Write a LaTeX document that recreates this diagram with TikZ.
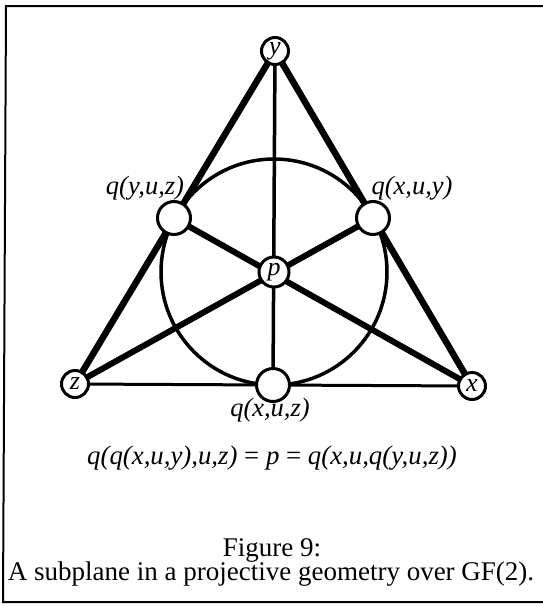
\documentclass[tikz,border=0pt]{standalone}
\usepackage{fontspec}
\setmainfont{Liberation Serif}
\begin{document}
\begin{tikzpicture}[x=1pt,y=-1pt,
  pt/.style={circle,draw,fill=white,line width=3pt,inner sep=0pt,font=\fontsize{26}{28}\selectfont\itshape},
  vtx/.style={pt,minimum size=27pt},
  mid/.style={pt,minimum size=33pt},
  ctr/.style={pt,minimum size=30pt},
  lbl/.style={font=\fontsize{26.5}{30}\selectfont\itshape,inner sep=0pt},
  eqtxt/.style={font=\fontsize{26.8}{30}\selectfont\itshape,inner sep=0pt},
  captxt/.style={font=\fontsize{27}{30}\selectfont,inner sep=0pt},
  side/.style={line width=6.5pt},
  med/.style={line width=6pt},
  thinln/.style={line width=3.5pt}]
\path[use as bounding box] (0,0) rectangle (543,606);
% frame
\draw[line width=2pt] (545,6) -- (6,6) -- (3,602) -- (545,602);
% coordinates
\coordinate (Y) at (275,51);
\coordinate (Z) at (75,384);
\coordinate (X) at (472,386);
\coordinate (P) at (274,272);
\coordinate (QYUZ) at (174,218);
\coordinate (QXUY) at (373,218);
\coordinate (QXUZ) at (273,385);
% circle
\draw[thinln] (P) circle[radius=113];
% lines
\draw[side] (Y) -- (Z);
\draw[side] (Y) -- (X);
\draw[line width=3pt] (Z) -- (X);
\draw[med] (Z) -- (QXUY);
\draw[med] (X) -- (QYUZ);
\draw[thinln] (Y) -- (QXUZ);
% nodes
\node[vtx] (y) at (Y) {y};
\node[vtx] (z) at (Z) {z};
\node[vtx] (x) at (X) {x};
\node[ctr] (p) at (P) {p};
\node[mid] (qyuz) at (QYUZ) {};
\node[mid] (qxuy) at (QXUY) {};
\node[mid] (qxuz) at (QXUZ) {};
% labels
\node[lbl] (lqyuz) at (145,188) {q(y,u,z)};
\node[lbl] (lqxuy) at (412,188) {q(x,u,y)};
\node[lbl] (lqxuz) at (270,410) {q(x,u,z)};
\node[eqtxt] (eq) at (272,458) {q(q(x,u,y),u,z) {\upshape=} p {\upshape=} q(x,u,q(y,u,z))};
\node[captxt] (fig) at (272,550) {Figure 9:};
\node[captxt] (capt) at (271,574) {A subplane in a projective geometry over GF(2).};
\end{tikzpicture}
\end{document}
